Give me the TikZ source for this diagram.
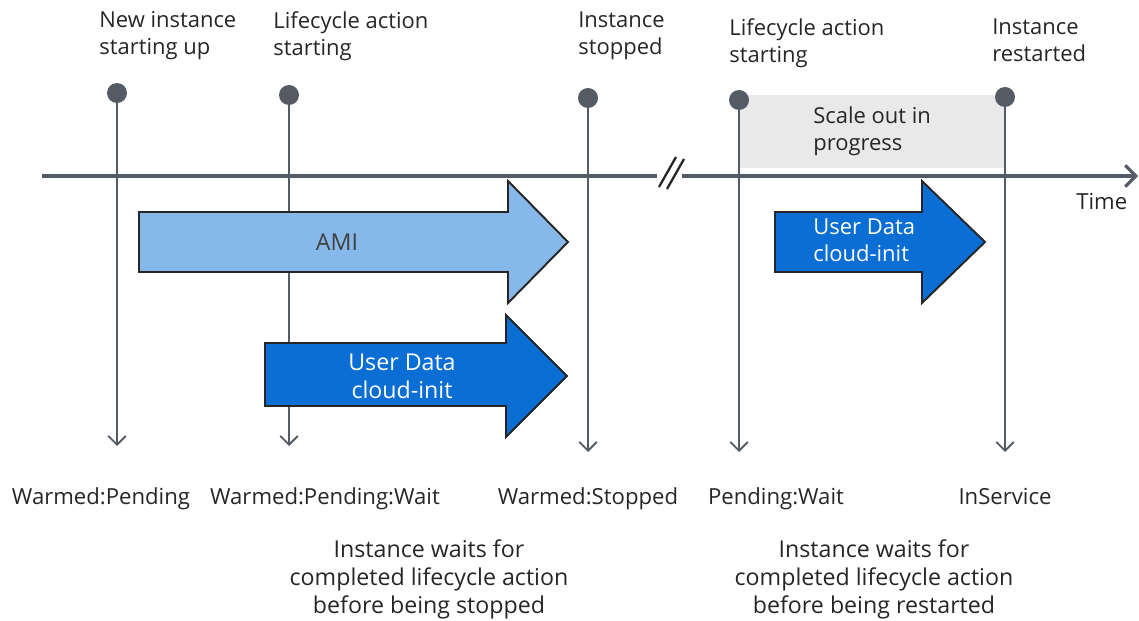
\documentclass[tikz,border=0pt]{standalone}
\usepackage{fontspec}
\setmainfont{Open Sans}
\usetikzlibrary{arrows.meta}

\definecolor{lineg}{HTML}{545B64}
\definecolor{amiblue}{HTML}{86B8E9}
\definecolor{udblue}{HTML}{0A6ED4}
\definecolor{boxgray}{HTML}{E9E9E9}

\tikzset{
  dot/.style={circle,fill=lineg,inner sep=0pt,minimum size=0.4cm},
  vline/.style={draw=lineg,line width=1.1pt,-{Straight Barb[length=5pt,width=10pt]}},
  timeline/.style={draw=lineg,line width=1.8pt},
  toplabel/.style={anchor=north west,align=left,inner sep=0pt,font=\fontsize{12.5}{15.5}\selectfont,text=black!85},
  statelabel/.style={anchor=base,inner sep=0pt,font=\fontsize{12.6}{15.5}\selectfont,text=black!85},
  note/.style={align=center,inner sep=0pt,font=\fontsize{13.2}{15.9}\selectfont,text=black!85},
  blockarrow/.style={draw=black!85,line width=1.1pt,line join=miter},
}

\begin{document}
\begin{tikzpicture}[x=0.02cm,y=-0.02cm]
\useasboundingbox (0,0) rectangle (1139,621);

\fill[boxgray] (739,95) rectangle (1005,168);
\node[toplabel] (scale) at (813,106) {Scale out in\\progress};

\coordinate (t0) at (42,176);
\coordinate (t1) at (657,176);
\coordinate (t2) at (682,176);
\coordinate (t3) at (1138,176);
\draw[timeline] (t0) -- (t1);
\draw[timeline,-{Straight Barb[length=6pt,width=12pt]}] (t2) -- (t3);
\draw[black!85,line width=1.3pt] (659,187) -- (676,157);
\draw[black!85,line width=1.3pt] (667,189) -- (684,159);
\node[anchor=base west,inner sep=0pt,font=\fontsize{12.6}{15.5}\selectfont,text=black!85] (time) at (1076,210) {Time};

\node[dot] (d1) at (117,93) {};
\node[dot] (d2) at (289,95) {};
\node[dot] (d3) at (588,98) {};
\node[dot] (d4) at (739,100) {};
\node[dot] (d5) at (1005,97) {};
\coordinate (e1) at (117,446);
\coordinate (e2) at (289,446);
\coordinate (e3) at (588,452);
\coordinate (e4) at (739,452);
\coordinate (e5) at (1005,452);
\foreach \i in {1,...,5}
  \draw[vline] (d\i) -- (e\i);

\node[toplabel] (l1) at (99,11) {New instance\\starting up};
\node[toplabel] (l2) at (273,11) {Lifecycle action\\starting};
\node[toplabel] (l3) at (578,11) {Instance\\stopped};
\node[toplabel] (l4) at (729,18) {Lifecycle action\\starting};
\node[toplabel] (l5) at (992,18) {Instance\\restarted};

\draw[blockarrow,fill=amiblue] (139,212) -- (508,212) -- (508,181) -- (568,242) -- (508,303) -- (508,272) -- (139,272) -- cycle;
\node[note,text=black!75] (ami) at (337,242) {AMI};

\draw[blockarrow,fill=udblue] (265,343) -- (506,343) -- (506,315) -- (567,376) -- (506,437) -- (506,406) -- (265,406) -- cycle;
\node[note,text=white] (ud1) at (402,376) {User Data\\cloud-init};

\draw[blockarrow,fill=udblue] (775,212) -- (922,212) -- (922,181) -- (985,242) -- (922,303) -- (922,272) -- (775,272) -- cycle;
\node[toplabel,text=white] (ud2) at (813,218) {User Data\\cloud-init};

\node[statelabel] (s1) at (101,504) {Warmed:Pending};
\node[statelabel] (s2) at (325,504) {Warmed:Pending:Wait};
\node[statelabel] (s3) at (588,504) {Warmed:Stopped};
\node[statelabel] (s4) at (776,504) {Pending:Wait};
\node[statelabel] (s5) at (1005,504) {InService};

\node[note] (w1) at (429,579) {Instance waits for\\completed lifecycle action\\before being stopped};
\node[note] (w2) at (874,579) {Instance waits for\\completed lifecycle action\\before being restarted};
\end{tikzpicture}
\end{document}
